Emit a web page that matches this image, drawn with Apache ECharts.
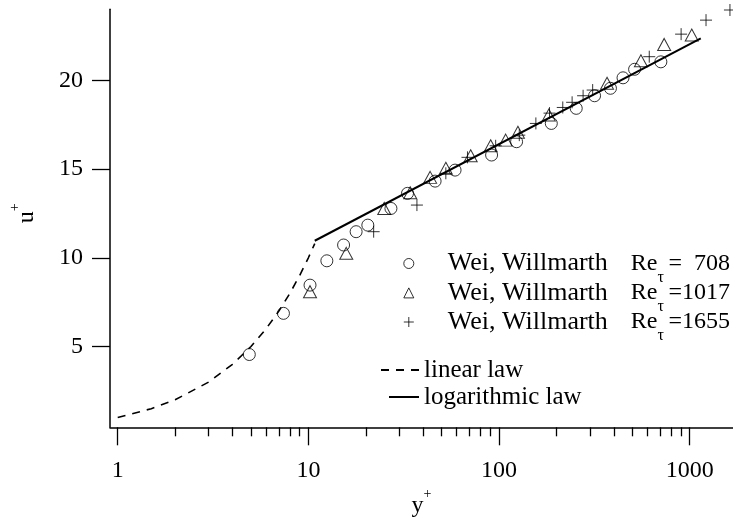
<!DOCTYPE html>
<html><head><meta charset="utf-8">
<script src="https://cdn.jsdelivr.net/npm/echarts@6/dist/echarts.min.js"></script>
<style>html,body{margin:0;padding:0;background:#fff}#c{width:733px;height:528px}</style>
</head><body><div id="c"></div>
<script>
// ---- data ----
const re708Y  = [4.9, 7.4, 10.2, 12.5, 15.3, 17.8, 20.5, 27.1, 33.1, 46.2, 58.8, 91.4, 123.6, 188, 254, 317, 384, 447, 514, 706];
const re708U  = [4.55, 6.87, 8.46, 9.83, 10.72, 11.47, 11.84, 12.78, 13.63, 14.32, 14.94, 15.79, 16.54, 17.57, 18.42, 19.13, 19.55, 20.14, 20.62, 21.04];
const re1017Y = [10.2, 15.8, 25.0, 34.2, 43.5, 52.6, 71.0, 90.4, 108.3, 125.6, 182.4, 368.5, 554.8, 734.6, 1025];
const re1017U = [8.09, 10.25, 12.78, 13.66, 14.53, 15.04, 15.75, 16.31, 16.63, 17.07, 18.04, 19.83, 21.10, 22.02, 22.55];
const re1655Y = [22.0, 37.1, 52.6, 68.3, 96.0, 127.7, 156, 184, 215.9, 241.7, 276, 309.8, 613.6, 901.6, 1218, 1626];
const re1655U = [11.47, 12.97, 14.76, 15.66, 16.31, 16.91, 17.57, 18.15, 18.47, 18.76, 19.13, 19.45, 21.33, 22.6, 23.39, 23.96];
const linearY = [1, 1.5, 2, 3, 4, 5, 6, 7, 8, 9, 10, 10.8];
const linearU = [1, 1.5, 2, 3, 4, 5, 6, 7, 8, 9, 10, 10.8];
const logY = [10.8, 1143];
const logU = [10.96, 22.36];
const xMajorTicks = [1, 10, 100, 1000];
const xMinorTicks = [2,3,4,5,6,7,8,9,20,30,40,50,60,70,80,90,200,300,400,500,600,700,800,900];
const yTicks = [5, 10, 15, 20];
const legendRe = {'Re708': '=  708', 'Re1017': '=1017', 'Re1655': '=1655'};

const FONT = '"Liberation Serif", "Times New Roman", serif';
const TF = 24, LF = 24, LLF = 25;
const X_MIN = 0.911, X_MAX = 1687, Y_MIN = 0.45, Y_MAX = 24;
const zip = (a, b) => a.map((v, i) => [v, b[i]]);
const markerStyle = {color: 'transparent', borderColor: '#000', borderWidth: 1};
const PLUS = 'path://M0,5L10,5M5,0L5,10';

function fmt(name) {
  if (legendRe[name]) return '{w|Wei, Willmarth}{r|Re}{s|τ}{a|' + legendRe[name] + '}';
  return name;
}
const rich = {
  w: {fontFamily: FONT, fontSize: 26, lineHeight: 44, width: 183, color: '#000'},
  r: {fontFamily: FONT, fontSize: LF, lineHeight: 44, color: '#000'},
  s: {fontFamily: FONT, fontSize: 16, color: '#000', verticalAlign: 'bottom', width: 11},
  a: {fontFamily: FONT, fontSize: LF, lineHeight: 44, color: '#000'}
};
function markLeg(name, icon, midY) {
  return {
    data: [name], left: 403.3, top: midY - 12, orient: 'vertical', padding: 0,
    icon: icon, itemWidth: 10, itemHeight: 10, itemGap: 0, selectedMode: false,
    itemStyle: {color: name === 'Re1655' ? '#000' : 'transparent', borderColor: '#000', borderWidth: 1},
    formatter: fmt,
    textStyle: {fontFamily: FONT, fontSize: LF, color: '#000', padding: [0, 0, 0, 29], rich: rich}
  };
}
function lineLeg(name, left, midY, w) {
  return {
    data: [name], left: left, top: midY - LLF / 2, orient: 'vertical', padding: 0,
    itemWidth: w, itemHeight: 12, itemGap: 0, selectedMode: false,
    itemStyle: {color: 'transparent', borderColor: 'transparent', borderWidth: 0},
    textStyle: {fontFamily: FONT, fontSize: LLF, color: '#000'}
  };
}

const chart = echarts.init(document.getElementById('c'), null, {renderer: 'canvas'});
chart.setOption({
  animation: false,
  backgroundColor: '#fff',
  grid: {left: 108.3, right: 0, top: 9.3, bottom: 100.7, containLabel: false},
  legend: [
    markLeg('Re708', 'circle', 262.5),
    markLeg('Re1017', 'triangle', 291.9),
    markLeg('Re1655', PLUS, 321),
    lineLeg('linear law', 380, 370, 38),
    lineLeg('logarithmic law', 388, 397, 30)
  ],
  xAxis: [{
    type: 'log', logBase: 10, min: X_MIN, max: X_MAX, position: 'bottom',
    name: '{y|y}{p|+}', nameLocation: 'middle', nameGap: 56,
    nameTextStyle: {rich: {y: {fontFamily: FONT, fontSize: TF, lineHeight: 38, color: '#000'},
                           p: {fontFamily: FONT, fontSize: 14, color: '#000', verticalAlign: 'top'}}},
    axisLine: {show: true, onZero: false, lineStyle: {color: '#000', width: 1.5}},
    axisTick: {show: true, length: 18, lineStyle: {color: '#000', width: 1.3}, customValues: xMajorTicks},
    axisLabel: {fontFamily: FONT, fontSize: TF, color: '#000', margin: 31, customValues: xMajorTicks,
                formatter: v => String(Math.round(v))},
    splitLine: {show: false}, minorTick: {show: false}
  }, {
    type: 'log', logBase: 10, min: X_MIN, max: X_MAX, position: 'bottom', offset: 0,
    axisLine: {show: false, onZero: false},
    axisTick: {show: true, length: 9, lineStyle: {color: '#000', width: 1.3}, customValues: xMinorTicks},
    axisLabel: {show: false}, splitLine: {show: false}
  }],
  yAxis: {
    type: 'value', min: Y_MIN, max: Y_MAX,
    name: '{u|u}{p|+}', nameLocation: 'middle', nameGap: 64, nameRotate: 90,
    nameTextStyle: {padding: [0, 0, 0, 10],
                    rich: {u: {fontFamily: FONT, fontSize: TF, lineHeight: 38, color: '#000'},
                           p: {fontFamily: FONT, fontSize: 14, color: '#000', verticalAlign: 'top'}}},
    axisLine: {show: true, lineStyle: {color: '#000', width: 1.5}},
    axisTick: {show: true, length: 18, lineStyle: {color: '#000', width: 1.3}, customValues: yTicks},
    axisLabel: {fontFamily: FONT, fontSize: TF, color: '#000', margin: 27, customValues: yTicks},
    splitLine: {show: false}
  },
  series: [
    {name: 'Re708', type: 'scatter', clip: false, symbol: 'circle', symbolSize: 12,
     itemStyle: markerStyle, data: zip(re708Y, re708U)},
    {name: 'Re1017', type: 'scatter', clip: false, symbol: 'triangle', symbolSize: [13, 12],
     itemStyle: markerStyle, data: zip(re1017Y, re1017U)},
    {name: 'Re1655', type: 'scatter', clip: false, symbol: PLUS, symbolSize: 12,
     itemStyle: {color: '#000', borderColor: '#000', borderWidth: 1}, data: zip(re1655Y, re1655U)},
    {name: 'linear law', type: 'line', symbol: 'none', smooth: false,
     lineStyle: {color: '#000', width: 1.6, type: [8, 7]}, itemStyle: {color: '#000'},
     data: zip(linearY, linearU)},
    {name: 'logarithmic law', type: 'line', symbol: 'none',
     lineStyle: {color: '#000', width: 2}, itemStyle: {color: '#000'},
     data: zip(logY, logU)}
  ]
});
</script></body></html>
